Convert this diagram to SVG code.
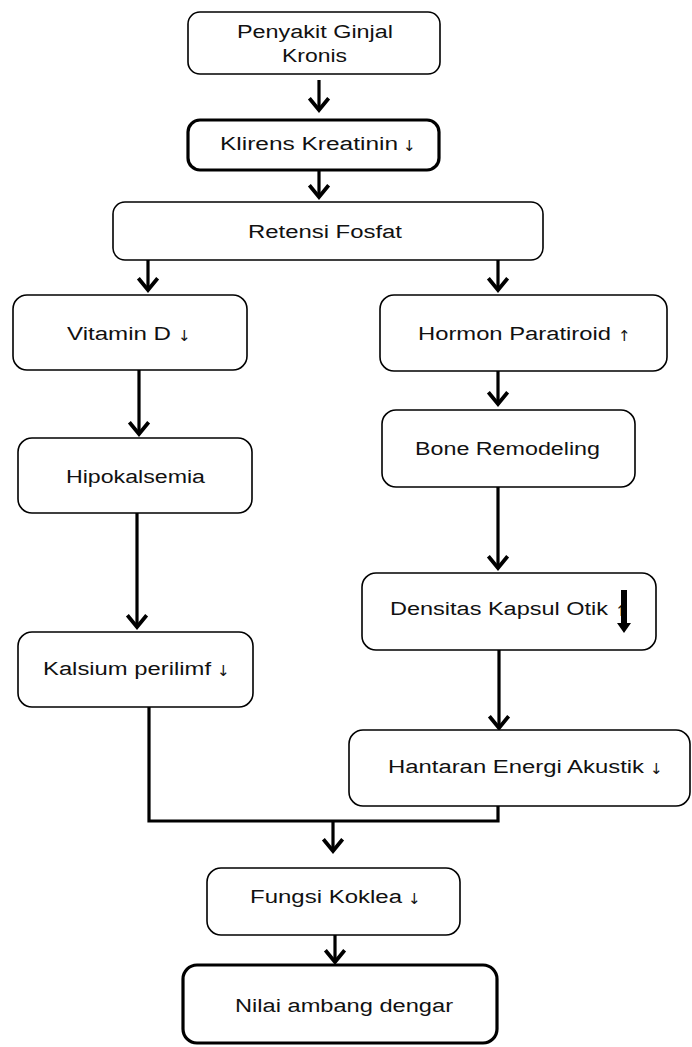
<svg xmlns="http://www.w3.org/2000/svg" width="692" height="1047" viewBox="0 0 692 1047">
<style>
.box{fill:#fff;stroke:#000;stroke-width:1.6}
.bold{stroke-width:3.2}
.t{font-family:"Liberation Sans",Arial,sans-serif;font-size:18px;fill:#111}
.ar{font-family:"DejaVu Sans",sans-serif;font-size:15px;fill:#111}
.c{fill:none;stroke:#000;stroke-width:3.2}
</style>
<defs>
<marker id="ah" markerUnits="userSpaceOnUse" markerWidth="30" markerHeight="30" refX="0" refY="0" viewBox="-14 -14 28 28" orient="auto" overflow="visible">
<path d="M-11,-9 L0,0 L-11,9" fill="none" stroke="#000" stroke-width="3.5"/>
</marker>
</defs>
<rect width="692" height="1047" fill="#fff"/>
<g id="connectors">
<path class="c" d="M319,80 V110" marker-end="url(#ah)"/>
<path class="c" d="M319,170 V197" marker-end="url(#ah)"/>
<path class="c" d="M148,260 V290" marker-end="url(#ah)"/>
<path class="c" d="M498,260 V290" marker-end="url(#ah)"/>
<path class="c" d="M139,370 V434" marker-end="url(#ah)"/>
<path class="c" d="M498,371 V404" marker-end="url(#ah)"/>
<path class="c" d="M137,513 V627" marker-end="url(#ah)"/>
<path class="c" d="M498,487 V568" marker-end="url(#ah)"/>
<path class="c" d="M499,650 V728" marker-end="url(#ah)"/>
<path class="c" d="M149,704 V821 H498 V805"/>
<path class="c" d="M333,821 V851" marker-end="url(#ah)"/>
<path class="c" d="M335,935 V962" marker-end="url(#ah)"/>
</g>
<g id="n1"><rect class="box" x="188" y="12" width="252" height="62" rx="12"/>
<text class="t" x="237" y="38" textLength="156" lengthAdjust="spacingAndGlyphs">Penyakit Ginjal</text>
<text class="t" x="282" y="62" textLength="65" lengthAdjust="spacingAndGlyphs">Kronis</text></g>
<g id="n2"><rect class="box bold" x="188" y="120" width="251" height="50" rx="12"/>
<text class="t" x="220" y="150" textLength="178" lengthAdjust="spacingAndGlyphs">Klirens Kreatinin</text><text class="ar" x="403" y="151">↓</text></g>
<g id="n3"><rect class="box" x="113" y="202" width="430" height="58" rx="12"/>
<text class="t" x="248" y="238" textLength="154" lengthAdjust="spacingAndGlyphs">Retensi Fosfat</text></g>
<g id="n4"><rect class="box" x="13" y="295" width="234" height="75" rx="14"/>
<text class="t" x="67" y="340" textLength="104" lengthAdjust="spacingAndGlyphs">Vitamin D</text><text class="ar" x="178" y="341">↓</text></g>
<g id="n5"><rect class="box" x="380" y="295" width="287" height="76" rx="14"/>
<text class="t" x="418" y="340" textLength="193" lengthAdjust="spacingAndGlyphs">Hormon Paratiroid</text><text class="ar" x="618" y="341">↑</text></g>
<g id="n6"><rect class="box" x="18" y="438" width="234" height="75" rx="14"/>
<text class="t" x="66" y="483" textLength="139" lengthAdjust="spacingAndGlyphs">Hipokalsemia</text></g>
<g id="n7"><rect class="box" x="382" y="410" width="253" height="77" rx="14"/>
<text class="t" x="415" y="455" textLength="185" lengthAdjust="spacingAndGlyphs">Bone Remodeling</text></g>
<g id="n8"><rect class="box" x="362" y="573" width="294" height="77" rx="14"/>
<text class="t" x="390" y="615" textLength="218" lengthAdjust="spacingAndGlyphs">Densitas Kapsul Otik</text><text class="ar" x="615" y="616">↑</text>
<path d="M621,590 H627 V623 H631 L624,633 L617,623 H621 Z" fill="#000"/></g>
<g id="n9"><rect class="box" x="18" y="632" width="235" height="75" rx="14"/>
<text class="t" x="43" y="675" textLength="168" lengthAdjust="spacingAndGlyphs">Kalsium perilimf</text><text class="ar" x="217" y="676">↓</text></g>
<g id="n10"><rect class="box" x="349" y="730" width="341" height="76" rx="14"/>
<text class="t" x="388" y="773" textLength="256" lengthAdjust="spacingAndGlyphs">Hantaran Energi Akustik</text><text class="ar" x="650" y="774">↓</text></g>
<g id="n11"><rect class="box" x="207" y="868" width="253" height="67" rx="14"/>
<text class="t" x="250" y="903" textLength="152" lengthAdjust="spacingAndGlyphs">Fungsi Koklea</text><text class="ar" x="408" y="904">↓</text></g>
<g id="n12"><rect class="box bold" x="183" y="965" width="314" height="78" rx="14"/>
<text class="t" x="235" y="1012" textLength="218" lengthAdjust="spacingAndGlyphs">Nilai ambang dengar</text></g>
</svg>
